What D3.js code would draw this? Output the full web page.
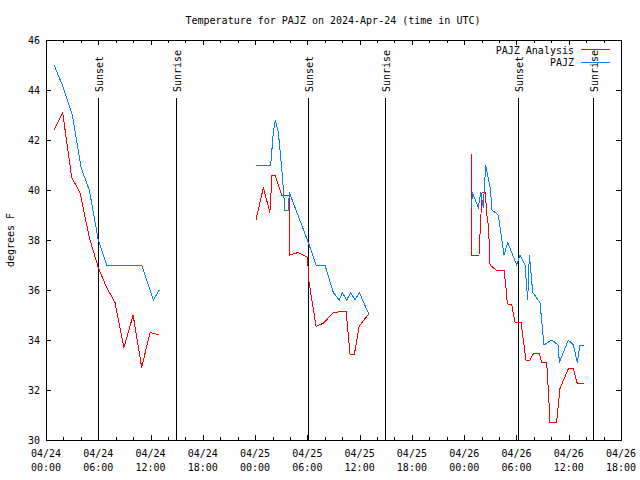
<!DOCTYPE html>
<html><head><meta charset="utf-8">
<script src="https://cdn.jsdelivr.net/npm/d3@7"></script>
<style>
body{margin:0;background:#fff}
text{font-family:"DejaVu Sans Mono","Liberation Mono",monospace;font-size:10px;fill:#000}
</style>
</head><body>
<svg id="c" width="640" height="480"></svg>
<script>
// ---- data (hours since 2024-04-24 00:00 UTC; null = gap) ----
const titleText = "Temperature for PAJZ on 2024-Apr-24 (time in UTC)";
const yLabel = "degrees F";
const seriesNames = ["PAJZ Analysis", "PAJZ"];
const seriesColors = ["#ff0000", "#0080ff"];

const obsHours = [0.92,1.99,3.02,4.02,4.97,6.0,6.97,10.98,12.32,13.0,null,
  24.1,25.79,26.09,26.32,26.67,27.05,27.43,27.81,27.93,30.11,30.99,32.02,32.98,33.67,34.01,34.52,34.98,35.47,35.96,37.04,null,
  48.86,48.93,49.62,49.9,50.19,50.47,51.04,51.16,51.92,52.57,53.0,54.03,54.41,54.98,55.29,55.48,55.87,56.7,57.16,58.05,58.8,58.92,59.95,60.53,60.99,61.29,61.79];
const obsTemps = [45.0,44.1,43.0,40.9,40.0,38.0,37.0,37.0,35.6,36.0,null,
  41.0,41.0,42.3,42.8,42.3,40.9,39.2,39.2,39.9,37.9,37.0,37.0,35.9,35.6,35.9,35.6,35.9,35.6,35.9,35.05,null,
  39.3,39.9,39.3,39.9,39.3,41.0,40.0,39.2,39.0,37.4,37.9,37.0,37.4,37.0,35.6,37.4,35.9,35.5,33.8,34.0,33.8,33.1,34.0,33.8,33.1,33.8,33.8];

const anaHours = [0.92,1.91,2.95,3.9,4.97,6.0,6.96,7.92,8.95,10.0,10.98,11.94,13.0,null,
  24.1,24.95,25.7,25.94,26.29,27.05,27.93,27.95,28.96,30.03,30.15,31.0,31.84,32.98,34.45,34.9,35.4,35.95,37.04,null,
  48.86,48.88,49.62,49.7,50.05,50.42,50.6,50.8,50.97,51.65,52.57,52.8,52.95,53.46,53.84,54.53,54.9,55.1,55.56,55.94,56.63,56.9,57.47,57.66,57.85,58.6,58.99,59.95,60.53,60.99,61.79];
const anaTemps = [42.4,43.1,40.5,39.9,38.1,36.9,36.1,35.5,33.7,35.0,32.9,34.3,34.2,null,
  38.8,40.1,39.1,40.6,40.6,39.8,39.8,37.4,37.5,37.3,36.4,34.55,34.67,35.1,35.15,33.44,33.44,34.56,35.04,null,
  41.44,37.4,37.4,37.4,39.9,39.9,39.0,38.5,37.0,36.8,36.8,36.1,35.45,35.4,34.7,34.7,33.7,33.2,33.2,33.45,33.45,33.1,33.1,32.0,30.7,30.7,32.05,32.85,32.85,32.25,32.25];

const sunsetHours = [6.0, 30.08, 54.15];
const sunriseHours = [14.95, 38.88, 62.83];
const yTicks = [30,32,34,36,38,40,42,44,46];
const xStartHour = 0, xEndHour = 66;

// ---- layout ----
const svg = d3.select("#c");
const L = 46, R = 621, T = 40, B = 440;
const t0 = Date.UTC(2024, 3, 24, 0, 0);
const toDate = h => new Date(t0 + h * 3600e3);

const x = d3.scaleUtc().domain([toDate(xStartHour), toDate(xEndHour)]).range([L, R]);
const y = d3.scaleLinear().domain([30, 46]).range([B, T]);

svg.append("rect").attr("width", 640).attr("height", 480).attr("fill", "#fff");

// title
svg.append("text").attr("x", 333).attr("y", 24).attr("text-anchor", "middle").text(titleText);

// y label
svg.append("text").attr("transform", "translate(14,240) rotate(-90)")
  .attr("text-anchor", "middle").text(yLabel);

// x ticks every 2h
const xTickVals = d3.range(xStartHour, xEndHour + 0.01, 2).map(toDate);
const isMajor = d => (d.getUTCHours() % 6) === 0;

const gxB = svg.append("g").attr("transform", `translate(0,${B})`)
  .call(d3.axisBottom(x).tickValues(xTickVals).tickSize(-4).tickFormat(""));
gxB.select(".domain").remove();
gxB.selectAll(".tick line").attr("y2", d => isMajor(d) ? -5 : -3).attr("stroke", "#000").attr("shape-rendering", "crispEdges");

const gxT = svg.append("g").attr("transform", `translate(0,${T})`)
  .call(d3.axisTop(x).tickValues(xTickVals).tickSize(-4).tickFormat(""));
gxT.select(".domain").remove();
gxT.selectAll(".tick line").attr("y2", d => isMajor(d) ? 5 : 3).attr("stroke", "#000").attr("shape-rendering", "crispEdges");

// x tick labels (two rows)
const fmtDay = d3.utcFormat("%m/%d"), fmtTime = d3.utcFormat("%H:%M");
const majors = xTickVals.filter(isMajor);
const lab = svg.append("g");
majors.forEach(d => {
  const t = lab.append("text").attr("text-anchor", "middle");
  t.append("tspan").attr("x", x(d)).attr("y", 457).text(fmtDay(d));
  t.append("tspan").attr("x", x(d)).attr("y", 471).text(fmtTime(d));
});

// y axes
const gyL = svg.append("g").attr("transform", `translate(${L},0)`)
  .call(d3.axisLeft(y).tickValues(yTicks).tickSize(-5).tickPadding(6).tickFormat(d3.format("d")));
gyL.select(".domain").remove();
gyL.selectAll(".tick line").attr("stroke", "#000").attr("shape-rendering", "crispEdges");
gyL.selectAll(".tick text").attr("dy", "0.35em");

const gyR = svg.append("g").attr("transform", `translate(${R},0)`)
  .call(d3.axisRight(y).tickValues(yTicks).tickSize(-5).tickFormat(""));
gyR.select(".domain").remove();
gyR.selectAll(".tick line").attr("stroke", "#000").attr("shape-rendering", "crispEdges");

gxB.selectAll("text").remove(); gxT.selectAll("text").remove();
svg.selectAll("g").attr("font-size", null).attr("font-family", null);

// sunset / sunrise lines
const events = sunsetHours.map(h => ({h, name: "Sunset"}))
  .concat(sunriseHours.map(h => ({h, name: "Sunrise"})));
const ev = svg.append("g");
events.forEach(e => {
  const xx = Math.round(x(toDate(e.h))) + 0.5;
  ev.append("line").attr("x1", xx).attr("x2", xx).attr("y1", 98).attr("y2", B)
    .attr("stroke", "#000").attr("shape-rendering", "crispEdges");
  ev.append("text").attr("transform", `translate(${xx + 4},92) rotate(-90)`)
    .attr("text-anchor", "start").text(e.name);
});

// series lines
function mk(hours, temps) { return hours.map((h, i) => ({h, v: temps[i]})); }
const line = d3.line().defined(d => d.h != null && d.v != null)
  .x(d => x(toDate(d.h))).y(d => y(d.v));
svg.append("path").datum(mk(anaHours, anaTemps)).attr("d", line)
  .attr("fill", "none").attr("stroke", seriesColors[0]).attr("stroke-width", 1).attr("shape-rendering", "crispEdges");
svg.append("path").datum(mk(obsHours, obsTemps)).attr("d", line)
  .attr("fill", "none").attr("stroke", seriesColors[1]).attr("stroke-width", 1).attr("shape-rendering", "crispEdges");

// frame
svg.append("rect").attr("x", L + 0.5).attr("y", T + 0.5).attr("width", R - L).attr("height", B - T)
  .attr("fill", "none").attr("stroke", "#000").attr("shape-rendering", "crispEdges");

// legend
const leg = svg.append("g");
seriesNames.forEach((n, i) => {
  const yy = 50 + i * 12.5;
  leg.append("text").attr("x", 574).attr("y", yy).attr("dy", "0.35em").attr("text-anchor", "end").text(n);
  leg.append("line").attr("x1", 581).attr("x2", 610).attr("y1", Math.round(yy) - 0.5).attr("y2", Math.round(yy) - 0.5)
    .attr("stroke", seriesColors[i]).attr("shape-rendering", "crispEdges");
});
</script>
</body></html>
